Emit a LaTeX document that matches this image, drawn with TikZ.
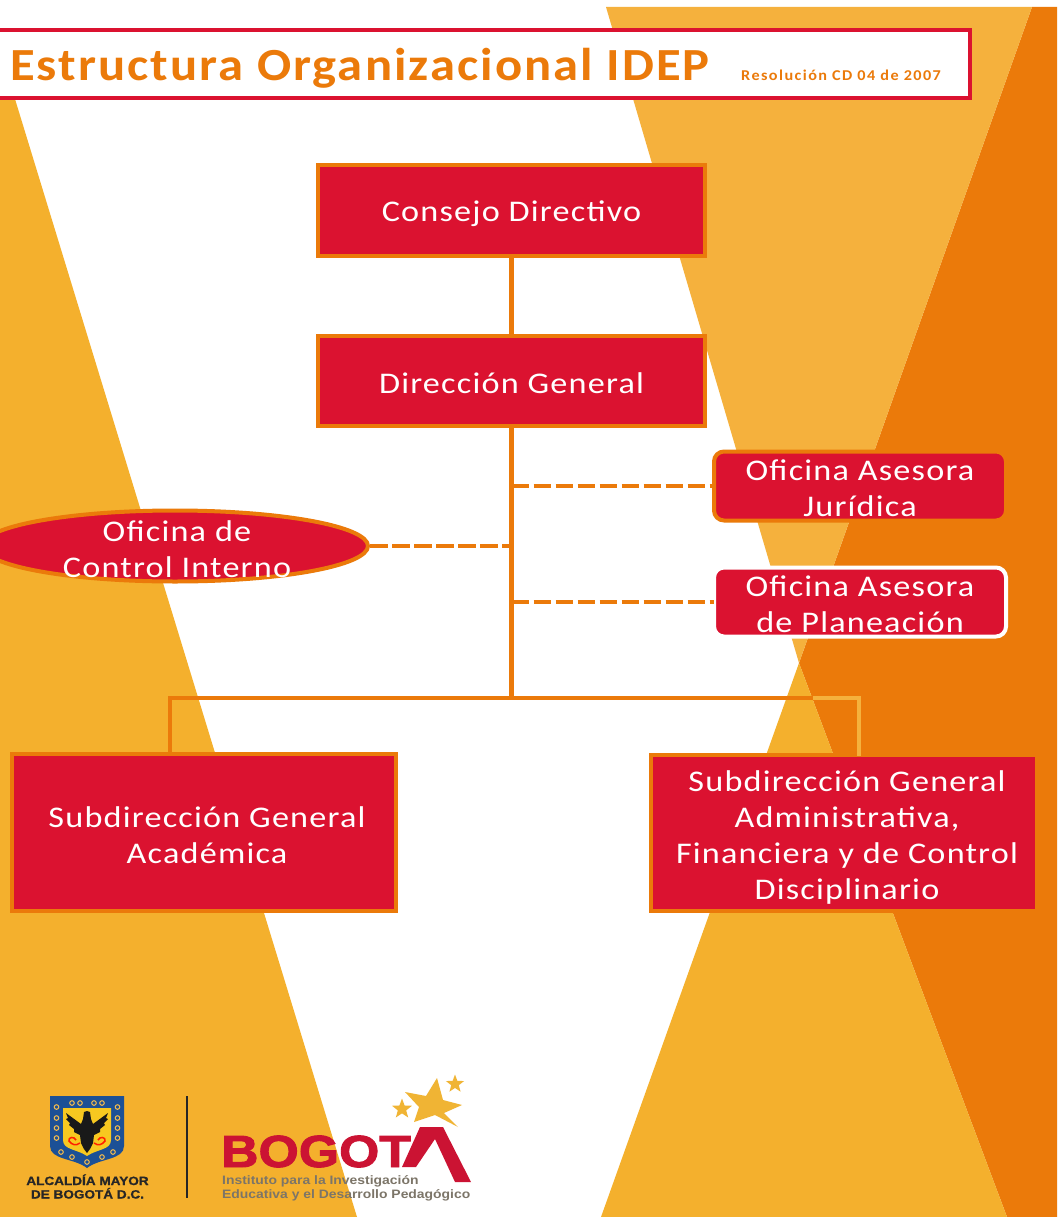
\documentclass[tikz,border=0pt]{standalone}
\usepackage{fontspec}
\setmainfont{Carlito}[LetterSpace=4,FakeStretch=1.14]
\newfontfamily\titlefont{Carlito}[LetterSpace=4.5,FakeStretch=1.1]
\newfontfamily\subfont{Carlito}[LetterSpace=9.5,FakeStretch=1.08]
\newfontfamily\logofont{Liberation Sans}[FakeStretch=1.13,BoldFeatures={FakeBold=1}]
\newfontfamily\bogofont{Liberation Sans}[FakeStretch=1.15,BoldFeatures={FakeBold=2}]
\newfontfamily\instfont{Liberation Sans}[FakeStretch=1.14]
\usetikzlibrary{shapes.geometric}
\definecolor{idepred}{HTML}{DB1230}
\definecolor{ideporange}{HTML}{EB7A0A}
\definecolor{idepyellow}{HTML}{F4B02D}
\definecolor{ideplight}{HTML}{F5B13D}
\definecolor{idepgray}{HTML}{7C7568}
\definecolor{idepblue}{HTML}{1C5096}
\definecolor{logored}{HTML}{CB1333}
\definecolor{logostar}{HTML}{F0B434}
\newcommand{\firsth}[1]{\rule{0pt}{#1}}
\tikzset{
  x=1pt,y=-1pt,
  boxtext/.style={align=center,text=white,inner sep=0pt,outer sep=0pt,font=\fontsize{30}{36}\selectfont},
  orgbox/.style={boxtext,rectangle,fill=idepred,draw=ideporange,line width=4pt},
  roundbox/.style={boxtext,rectangle,rounded corners=10pt,fill=idepred,line width=4pt,minimum width=292pt,minimum height=69pt},
  link/.style={draw=ideporange,line width=4.5pt},
  barlink/.style={draw=ideporange,line width=4pt},
  dashlink/.style={link,dash pattern=on 17.7pt off 4.3pt},
}
\begin{document}
\begin{tikzpicture}
\useasboundingbox (0,0) rectangle (1057,1217);
% background
\fill[white] (0,0) rectangle (1057,1217);
\fill[idepyellow] (0,50) -- (357,1217) -- (0,1217) -- cycle;
\fill[ideporange] (1032,7) -- (1057,7) -- (1057,1217) -- (1007,1217) -- (799,663) -- cycle;
\fill[ideplight] (606,7) -- (1032,7) -- (799,663) -- cycle;
\fill[idepyellow] (799,663) -- (1007,1217) -- (601,1217) -- cycle;
% title
\node[draw=idepred,fill=white,line width=4pt,rectangle,inner sep=0pt,minimum width=980pt,minimum height=68pt] (titlebar) at (480,64) {};
\node[anchor=base west,inner sep=0pt,text=ideporange,font=\titlefont\bfseries\fontsize{46}{50}\selectfont] (titletext) at (10,81) {Estructura Organizacional IDEP};
\node[anchor=base west,inner sep=0pt,text=ideporange,font=\subfont\bfseries\fontsize{15}{16}\selectfont] (titlesub) at (741,80.5) {Resolución CD 04 de 2007};
% connector ends
\coordinate (trunkjur) at (511.5,486);
\coordinate (trunkctl) at (511.5,546);
\coordinate (trunkpla) at (511.5,602);
\coordinate (trunkend) at (511.5,698);
\coordinate (crossing) at (813,698);
\coordinate (corneracad) at (170,698);
\coordinate (cornerfin) at (859,698);
\coordinate (dropacad) at (170,754);
\coordinate (dropfin) at (859,756);
% nodes
\node[orgbox,minimum width=387pt,minimum height=91pt] (consejo) at (511.5,210.5) {\firsth{27pt}Consejo Directivo};
\node[orgbox,minimum width=387pt,minimum height=90pt] (direccion) at (511.5,381) {\firsth{25pt}Dirección General};
\node[roundbox,draw=ideporange] (juridica) at (860,486) {\firsth{26pt}Oficina Asesora\\Jurídica};
\node[roundbox,draw=white] (planeacion) at (860,602) {\firsth{26pt}Oficina Asesora\\de Planeación};
\node[ellipse,inner sep=0pt,fill=idepred,draw=ideporange,line width=4pt,minimum width=386pt,minimum height=71pt] (control) at (175,546) {};
\node[boxtext] (controltext) at (177,546) {\firsth{27pt}Oficina de\\Control Interno};
\node[orgbox,minimum width=384pt,minimum height=157pt] (academica) at (204,832.5) {\firsth{26pt}\hspace*{6pt}Subdirección General\\\hspace*{6pt}Académica};
\node[orgbox,minimum width=386pt,minimum height=156pt] (financiera) at (844,832.5) {\firsth{30pt}\hspace*{6pt}Subdirección General\\\hspace*{6pt}Administrativa,\\\hspace*{6pt}Financiera y de Control\\\hspace*{6pt}Disciplinario};
% connectors
\draw[link] (consejo) -- (direccion);
\draw[link] (direccion) -- (trunkend);
\draw[dashlink] (trunkjur) -- (juridica.west);
\draw[dashlink] (trunkpla) -- (planeacion.west);
\draw[dashlink] (control.east) -- (trunkctl);
\draw[barlink] (dropacad) -- (corneracad) -- (crossing);
\draw[draw=ideplight,line width=4pt] (crossing) -- (cornerfin) -- (dropfin);
% coat of arms
\fill[idepblue] (50,1096) -- (124,1096) -- (124,1146) .. controls (124,1160) and (100,1158) .. (87,1168) .. controls (74,1158) and (50,1160) .. (50,1146) -- cycle;
\fill[idepyellow!70!yellow] (63,1108) -- (111,1108) -- (111,1140) .. controls (111,1150) and (97,1149) .. (87,1156) .. controls (77,1149) and (63,1150) .. (63,1140) -- cycle;
\foreach \px/\py in {56.5/1107,56.5/1118,56.5/1128,56.5/1138,117.5/1107,117.5/1118,117.5/1128,117.5/1138,72/1103,80/1103,94/1103,102/1103,61/1152,113/1152,72/1157,102/1157,87/1162}
  \draw[idepyellow!85!white,line width=1pt] (\px,\py) circle[radius=2.3pt];
\fill[black!90] (87,1111) -- (90,1112) -- (91,1119) -- (93,1124) -- (108,1113) -- (106,1118) -- (108,1119) -- (104,1123) -- (105,1125) -- (100,1129) -- (100,1132) -- (94,1135) -- (93,1143) -- (90,1149) -- (87,1153) -- (84,1149) -- (81,1143) -- (80,1135) -- (74,1132) -- (74,1129) -- (69,1125) -- (70,1123) -- (66,1119) -- (68,1118) -- (66,1113) -- (81,1124) -- (83,1119) -- (84,1112) -- cycle;
\draw[red!75!orange,line width=1.5pt] (80,1143) .. controls (76,1146) and (72,1145) .. (69,1141) .. controls (68,1137) and (74,1136) .. (76,1140) (94,1143) .. controls (98,1146) and (102,1145) .. (105,1141) .. controls (106,1137) and (100,1136) .. (98,1140);
\node[inner sep=0pt,text=black!85,font=\logofont\bfseries\fontsize{12}{13.5}\selectfont,align=center] (alcaldia) at (87.5,1186.5) {ALCALDÍA MAYOR\\DE BOGOTÁ D.C.};
\draw[black!85,line width=1.5pt] (187,1096) -- (187,1198);
% Bogota logo
\node[anchor=base west,inner sep=0pt,text=logored,font=\bogofont\bfseries\fontsize{45}{46}\selectfont] (bogota) at (221,1167) {BOGOT};
\fill[logored] (420,1127) -- (443,1127) -- (471,1182) -- (455,1182) -- (435,1139) -- (416,1167) -- (402,1167) -- cycle;
\fill[logostar] (437,1078) -- (443,1100) -- (462,1105) -- (444,1113) -- (458,1127) -- (435,1115) -- (414,1122) -- (419,1107) -- (405,1092) -- (426,1096) -- cycle;
\node[star,star points=5,star point ratio=2.4,fill=logostar,inner sep=0pt,minimum size=19pt] (starright) at (455,1084) {};
\node[star,star points=5,star point ratio=2.4,fill=logostar,inner sep=0pt,minimum size=21pt] (starleft) at (402,1109) {};
\node[anchor=west,inner sep=0pt,text=idepgray,font=\instfont\bfseries\fontsize{12.2}{14}\selectfont,align=left] (instituto) at (222,1188) {Instituto para la Investigación\\Educativa y el Desarrollo Pedagógico};
\end{tikzpicture}
\end{document}
